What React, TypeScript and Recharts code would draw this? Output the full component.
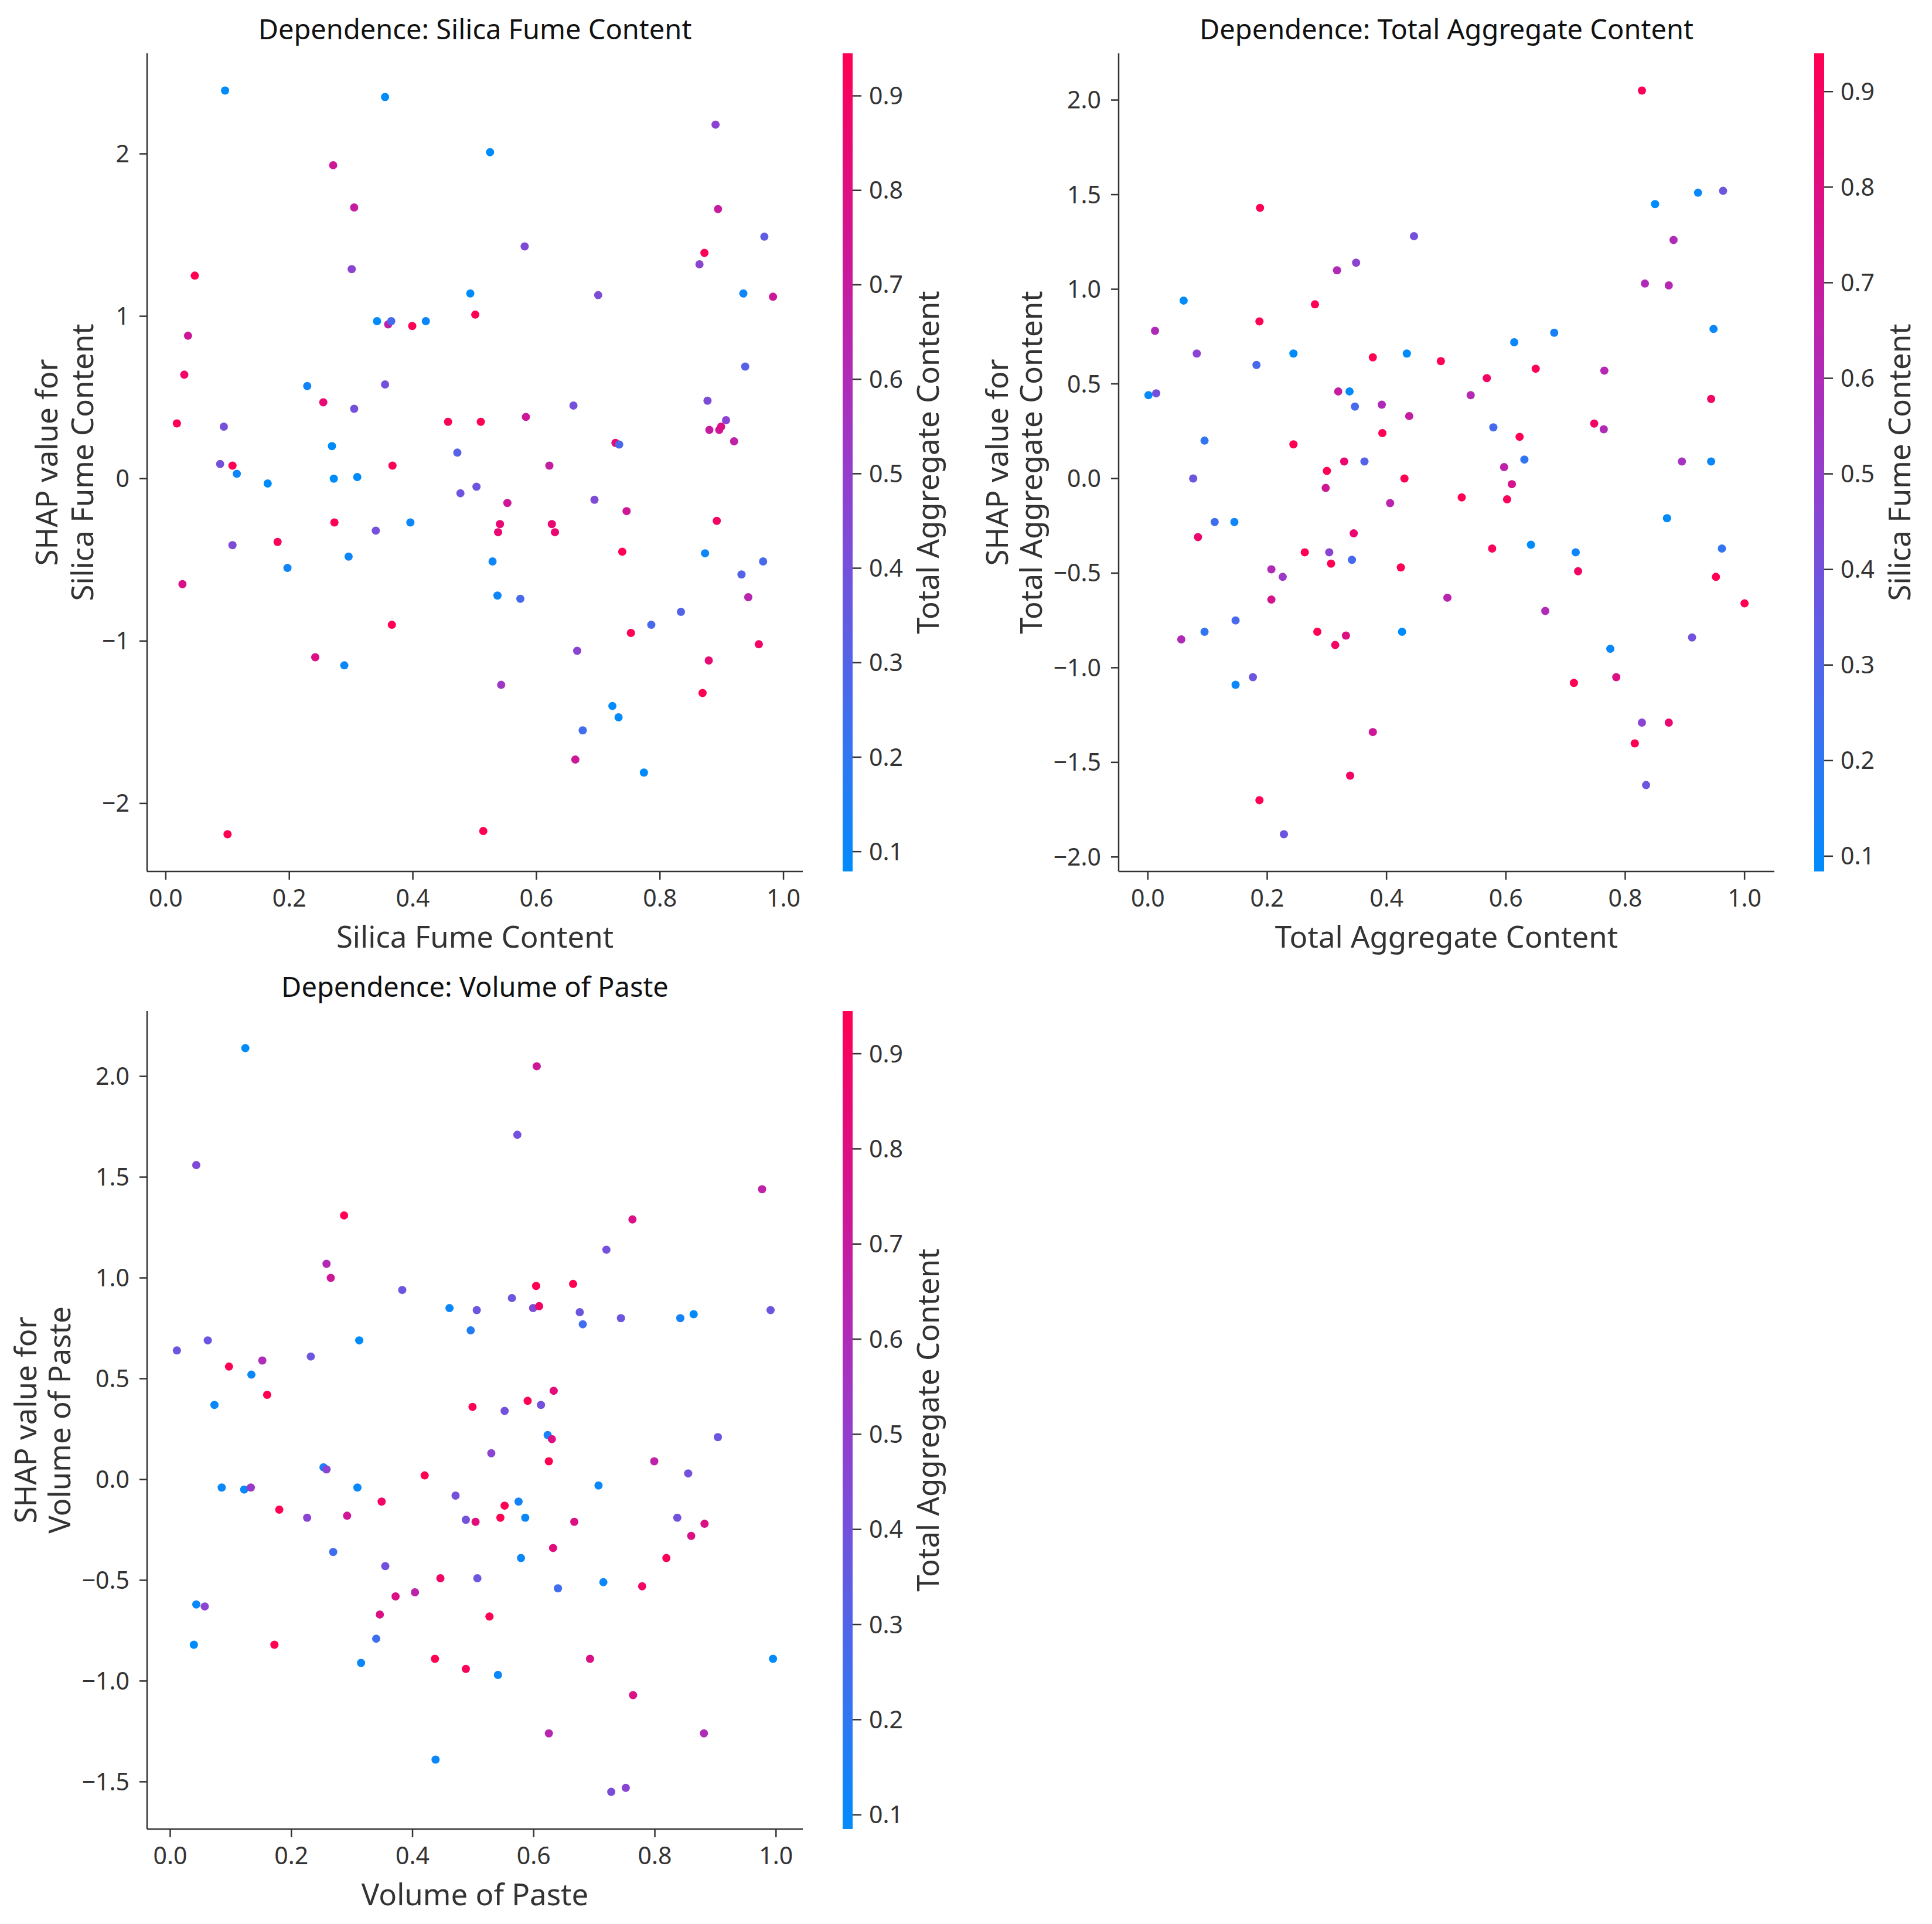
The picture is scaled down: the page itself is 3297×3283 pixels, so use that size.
import React from "react";
import { Bar, BarChart, Label, Scatter, ScatterChart, XAxis, YAxis } from "recharts";

// Dependence: Silica Fume Content (colour = Total Aggregate Content)
const sfX = [
  0.096, 0.355, 0.271, 0.305, 0.047, 0.301, 0.493, 0.036, 0.342, 0.36, 0.365, 0.399, 0.421, 0.501, 0.03, 0.229,
  0.355, 0.255, 0.305, 0.018, 0.094, 0.457, 0.51, 0.269, 0.472, 0.088, 0.108, 0.115, 0.165, 0.272, 0.31, 0.367,
  0.477, 0.503, 0.273, 0.34, 0.396, 0.108, 0.181, 0.296, 0.197, 0.027, 0.366, 0.242, 0.289, 0.1, 0.514,
  0.525, 0.89, 0.894, 0.969, 0.872, 0.864, 0.581, 0.7, 0.935, 0.983, 0.938, 0.66, 0.877, 0.583, 0.88, 0.896,
  0.907, 0.899, 0.92, 0.728, 0.734, 0.621, 0.694, 0.553, 0.746, 0.541, 0.538, 0.625, 0.63, 0.892, 0.739, 0.873,
  0.529, 0.932, 0.967, 0.537, 0.574, 0.943, 0.834, 0.786, 0.753, 0.666, 0.96, 0.879, 0.543, 0.869, 0.723, 0.733,
  0.675, 0.663, 0.774,
];
const sfShap = [
  2.39, 2.35, 1.93, 1.67, 1.25, 1.29, 1.14, 0.88, 0.97, 0.95, 0.97, 0.94, 0.97, 1.01, 0.64, 0.57, 0.58, 0.47, 0.43,
  0.34, 0.32, 0.35, 0.35, 0.2, 0.16, 0.09, 0.08, 0.03, -0.03, 0.0, 0.01, 0.08, -0.09, -0.05, -0.27, -0.32, -0.27,
  -0.41, -0.39, -0.48, -0.55, -0.65, -0.9, -1.1, -1.15, -2.19, -2.17,
  2.01, 2.18, 1.66, 1.49, 1.39, 1.32, 1.43, 1.13, 1.14, 1.12, 0.69, 0.45, 0.48, 0.38, 0.3, 0.3, 0.36, 0.32, 0.23,
  0.22, 0.21, 0.08, -0.13, -0.15, -0.2, -0.28, -0.33, -0.28, -0.33, -0.26, -0.45, -0.46, -0.51, -0.59, -0.51, -0.72,
  -0.74, -0.73, -0.82, -0.9, -0.95, -1.06, -1.02, -1.12, -1.27, -1.32, -1.4, -1.47, -1.55, -1.73, -1.81,
];
const sfColor = [
  0.05, 0.08, 0.73, 0.69, 0.95, 0.47, 0.08, 0.73, 0.08, 0.66, 0.27, 0.93, 0.11, 0.95, 0.89, 0.12, 0.4, 0.85, 0.4,
  0.95, 0.4, 0.92, 0.95, 0.08, 0.31, 0.4, 0.95, 0.11, 0.08, 0.08, 0.08, 0.93, 0.38, 0.38, 0.93, 0.4, 0.11, 0.43,
  0.92, 0.11, 0.12, 0.79, 0.95, 0.79, 0.11, 0.95, 0.95,
  0.08, 0.47, 0.69, 0.34, 0.92, 0.47, 0.43, 0.43, 0.11, 0.73, 0.31, 0.4, 0.43, 0.73, 0.7, 0.73, 0.47, 0.79, 0.66,
  0.85, 0.27, 0.69, 0.43, 0.73, 0.73, 0.85, 0.85, 0.85, 0.85, 0.89, 0.95, 0.11, 0.11, 0.3, 0.27, 0.11, 0.27, 0.64,
  0.3, 0.27, 0.95, 0.47, 0.89, 0.85, 0.53, 0.95, 0.08, 0.08, 0.25, 0.73, 0.08,
];

// Dependence: Total Aggregate Content (colour = Silica Fume Content)
const tagX = [
  0.188, 0.446, 0.317, 0.349, 0.06, 0.28, 0.187, 0.012, 0.082, 0.182, 0.244, 0.377, 0.434, 0.491, 0.001, 0.014,
  0.319, 0.338, 0.347, 0.392, 0.438, 0.095, 0.244, 0.393, 0.076, 0.3, 0.329, 0.363, 0.43, 0.298, 0.406, 0.526,
  0.112, 0.145, 0.084, 0.345, 0.263, 0.304, 0.307, 0.342, 0.424, 0.207, 0.226, 0.207, 0.502, 0.056, 0.095, 0.147,
  0.284, 0.314, 0.332, 0.426, 0.147, 0.176, 0.377, 0.339, 0.187, 0.228,
  0.828, 0.85, 0.922, 0.964, 0.881, 0.833, 0.873, 0.681, 0.614, 0.948, 0.65, 0.568, 0.765, 0.541, 0.944, 0.579,
  0.623, 0.748, 0.764, 0.631, 0.597, 0.895, 0.944, 0.61, 0.602, 0.87, 0.577, 0.642, 0.717, 0.721, 0.962, 0.952,
  1.0, 0.666, 0.912, 0.775, 0.714, 0.785, 0.828, 0.873, 0.816, 0.835,
];
const tagShap = [
  1.43, 1.28, 1.1, 1.14, 0.94, 0.92, 0.83, 0.78, 0.66, 0.6, 0.66, 0.64, 0.66, 0.62, 0.44, 0.45, 0.46, 0.46, 0.38,
  0.39, 0.33, 0.2, 0.18, 0.24, 0.0, 0.04, 0.09, 0.09, 0.0, -0.05, -0.13, -0.1, -0.23, -0.23, -0.31, -0.29, -0.39,
  -0.39, -0.45, -0.43, -0.47, -0.48, -0.52, -0.64, -0.63, -0.85, -0.81, -0.75, -0.81, -0.88, -0.83, -0.81, -1.09,
  -1.05, -1.34, -1.57, -1.7, -1.88,
  2.05, 1.45, 1.51, 1.52, 1.26, 1.03, 1.02, 0.77, 0.72, 0.79, 0.58, 0.53, 0.57, 0.44, 0.42, 0.27, 0.22, 0.29, 0.26,
  0.1, 0.06, 0.09, 0.09, -0.03, -0.11, -0.21, -0.37, -0.35, -0.39, -0.49, -0.37, -0.52, -0.66, -0.7, -0.84, -0.9,
  -1.08, -1.05, -1.29, -1.29, -1.4, -1.62,
];
const tagColor = [
  0.92, 0.4, 0.6, 0.47, 0.08, 0.95, 0.95, 0.6, 0.47, 0.27, 0.08, 0.95, 0.08, 0.95, 0.08, 0.4, 0.69, 0.08, 0.27,
  0.6, 0.69, 0.21, 0.95, 0.95, 0.38, 0.95, 0.85, 0.31, 0.95, 0.73, 0.64, 0.95, 0.25, 0.12, 0.85, 0.85, 0.95, 0.47,
  0.95, 0.27, 0.95, 0.6, 0.53, 0.76, 0.64, 0.6, 0.21, 0.27, 0.95, 0.89, 0.79, 0.08, 0.11, 0.38, 0.73, 0.89, 0.95,
  0.38,
  0.92, 0.08, 0.11, 0.38, 0.6, 0.6, 0.62, 0.14, 0.11, 0.11, 0.95, 0.89, 0.62, 0.62, 0.89, 0.27, 0.95, 0.89, 0.6,
  0.21, 0.66, 0.56, 0.11, 0.76, 0.92, 0.08, 0.92, 0.08, 0.12, 0.89, 0.21, 0.95, 0.95, 0.6, 0.4, 0.11, 0.95, 0.79,
  0.47, 0.85, 0.95, 0.38,
];

// Dependence: Volume of Paste (colour = Total Aggregate Content)
const vopX = [
  0.124, 0.043, 0.287, 0.258, 0.265, 0.383, 0.461, 0.506, 0.496, 0.011, 0.062, 0.312, 0.097, 0.134, 0.152, 0.232,
  0.073, 0.16, 0.499, 0.253, 0.258, 0.085, 0.122, 0.133, 0.309, 0.42, 0.18, 0.226, 0.292, 0.349, 0.471, 0.488,
  0.504, 0.269, 0.355, 0.446, 0.507, 0.372, 0.404, 0.346, 0.527, 0.34, 0.437, 0.488, 0.043, 0.057, 0.039, 0.172,
  0.315, 0.438,
  0.605, 0.573, 0.977, 0.763, 0.72, 0.665, 0.604, 0.564, 0.599, 0.609, 0.676, 0.681, 0.744, 0.842, 0.864, 0.991,
  0.59, 0.612, 0.633, 0.552, 0.623, 0.63, 0.53, 0.625, 0.799, 0.904, 0.855, 0.707, 0.575, 0.552, 0.545, 0.586,
  0.667, 0.837, 0.86, 0.882, 0.632, 0.819, 0.579, 0.64, 0.715, 0.779, 0.693, 0.541, 0.995, 0.764, 0.625, 0.881,
  0.728, 0.752,
];
const vopShap = [
  2.14, 1.56, 1.31, 1.07, 1.0, 0.94, 0.85, 0.84, 0.74, 0.64, 0.69, 0.69, 0.56, 0.52, 0.59, 0.61, 0.37, 0.42, 0.36,
  0.06, 0.05, -0.04, -0.05, -0.04, -0.04, 0.02, -0.15, -0.19, -0.18, -0.11, -0.08, -0.2, -0.21, -0.36, -0.43,
  -0.49, -0.49, -0.58, -0.56, -0.67, -0.68, -0.79, -0.89, -0.94, -0.62, -0.63, -0.82, -0.82, -0.91, -1.39,
  2.05, 1.71, 1.44, 1.29, 1.14, 0.97, 0.96, 0.9, 0.85, 0.86, 0.83, 0.77, 0.8, 0.8, 0.82, 0.84, 0.39, 0.37, 0.44,
  0.34, 0.22, 0.2, 0.13, 0.09, 0.09, 0.21, 0.03, -0.03, -0.11, -0.13, -0.19, -0.19, -0.21, -0.19, -0.28, -0.22,
  -0.34, -0.39, -0.39, -0.54, -0.51, -0.53, -0.89, -0.97, -0.89, -1.07, -1.26, -1.26, -1.55, -1.53,
];
const vopColor = [
  0.08, 0.44, 0.95, 0.62, 0.73, 0.38, 0.11, 0.38, 0.17, 0.38, 0.38, 0.08, 0.95, 0.11, 0.6, 0.38, 0.11, 0.95, 0.95,
  0.14, 0.47, 0.11, 0.11, 0.53, 0.11, 0.95, 0.95, 0.47, 0.73, 0.89, 0.4, 0.4, 0.82, 0.25, 0.4, 0.89, 0.38, 0.79,
  0.66, 0.79, 0.95, 0.25, 0.95, 0.92, 0.11, 0.47, 0.08, 0.95, 0.11, 0.11,
  0.73, 0.4, 0.66, 0.79, 0.4, 0.95, 0.95, 0.38, 0.43, 0.89, 0.38, 0.25, 0.38, 0.14, 0.08, 0.38, 0.95, 0.4, 0.82,
  0.4, 0.14, 0.79, 0.47, 0.95, 0.66, 0.38, 0.4, 0.11, 0.14, 0.95, 0.95, 0.11, 0.79, 0.4, 0.79, 0.79, 0.82, 0.92,
  0.11, 0.25, 0.11, 0.89, 0.79, 0.11, 0.08, 0.79, 0.64, 0.6, 0.43, 0.47,
];

const xTicks = [0, 0.2, 0.4, 0.6, 0.8, 1.0];
const sfYTicks = [-2, -1, 0, 1, 2];
const tagYTicks = [-2, -1.5, -1, -0.5, 0, 0.5, 1, 1.5, 2];
const vopYTicks = [-1.5, -1, -0.5, 0, 0.5, 1, 1.5, 2];
const cbTicks = [0.1, 0.2, 0.3, 0.4, 0.5, 0.6, 0.7, 0.8, 0.9];

// colour ranges shown on each colour bar
const sfColorRange: [number, number] = [0.079, 0.945];
const tagColorRange: [number, number] = [0.084, 0.94];
const vopColorRange: [number, number] = [0.085, 0.945];

// shap red_blue, sampled
const cmap = ["#008bfb", "#2b79f4", "#5164e9", "#7650db", "#983bca", "#b428b3", "#cd1797", "#e60a76", "#ff0052"];

const FONT = "'Noto Sans', 'Open Sans', sans-serif";
const INK = "#333333";

const PLOT_LEFT = 251;
const PLOT_TOP = 91;
const PLOT_W = 1119;
const PLOT_H = 1396;
const CHART_W = 1420;
const CHART_H = 1660;
const CB_LEFT = 1438;
const CB_W = 200;
const CB_BAR = 17;

function hexToRgb(h: string) {
  return [1, 3, 5].map((i) => parseInt(h.slice(i, i + 2), 16));
}

function colorAt(t: number) {
  const c = Math.max(0, Math.min(1, t)) * (cmap.length - 1);
  const i = Math.min(Math.floor(c), cmap.length - 2);
  const f = c - i;
  const a = hexToRgb(cmap[i]);
  const b = hexToRgb(cmap[i + 1]);
  const rgb = a.map((v, k) => Math.round(v + (b[k] - v) * f));
  return `rgb(${rgb[0]},${rgb[1]},${rgb[2]})`;
}

function padded(values: number[]): [number, number] {
  const lo = Math.min(...values);
  const hi = Math.max(...values);
  const m = (hi - lo) * 0.05;
  return [lo - m, hi + m];
}

function fmt(v: number, digits: number) {
  return v.toFixed(digits).replace("-", "\u2212");
}

type PanelProps = {
  id: string;
  left: number;
  top: number;
  feature: string;
  colorFeature: string;
  xs: number[];
  ys: number[];
  cs: number[];
  yTicks: number[];
  yDigits: number;
  yLabelGap: [number, number];
  colorRange: [number, number];
};

function Dot(props: any) {
  const { cx, cy, payload } = props;
  if (cx == null || cy == null) return null;
  return <circle cx={cx} cy={cy} r={7} fill={payload.fill} />;
}

function Panel({ id, left, top, feature, colorFeature, xs, ys, cs, yTicks, yDigits, yLabelGap, colorRange }: PanelProps) {
  const [lo, hi] = colorRange;
  const data = xs.map((x, i) => ({ x, y: ys[i], fill: colorAt((cs[i] - lo) / (hi - lo)) }));
  const tickStyle = { fontSize: 41, fill: INK, fontFamily: FONT };
  const labelStyle = { fontSize: 51, fill: INK, fontFamily: FONT };
  const midY = PLOT_TOP + PLOT_H / 2;
  const stops = cmap.map((c, i) => (
    <stop key={i} offset={`${(i / (cmap.length - 1)) * 100}%`} stopColor={c} />
  ));

  return (
    <div style={{ position: "absolute", left, top, width: CHART_W + 100, height: CHART_H }}>
      <ScatterChart
        width={CHART_W}
        height={CHART_H}
        margin={{ top: PLOT_TOP, right: CHART_W - PLOT_LEFT - PLOT_W, bottom: 0, left: 0 }}
      >
        <XAxis
          type="number"
          dataKey="x"
          domain={padded(xs)}
          ticks={xTicks}
          interval={0}
          height={CHART_H - PLOT_TOP - PLOT_H}
          tickSize={14}
          tickMargin={17}
          tick={tickStyle}
          tickFormatter={(v: number) => fmt(v, 1)}
          axisLine={{ stroke: INK, strokeWidth: 2.5 }}
          tickLine={{ stroke: INK, strokeWidth: 2.5 }}
        >
          <Label
            content={() => (
              <text x={PLOT_LEFT + PLOT_W / 2} y={PLOT_TOP + PLOT_H + 130} textAnchor="middle" {...labelStyle}>
                {feature}
              </text>
            )}
          />
        </XAxis>
        <YAxis
          type="number"
          dataKey="y"
          domain={padded(ys)}
          ticks={yTicks}
          interval={0}
          width={PLOT_LEFT}
          tickSize={13}
          tickMargin={17}
          tick={tickStyle}
          tickFormatter={(v: number) => fmt(v, yDigits)}
          axisLine={{ stroke: INK, strokeWidth: 2.5 }}
          tickLine={{ stroke: INK, strokeWidth: 2.5 }}
        >
          <Label
            content={() => (
              <g>
                <text
                  x={PLOT_LEFT + PLOT_W / 2}
                  y={PLOT_TOP - 24}
                  textAnchor="middle"
                  fontSize={47}
                  fill="#111111"
                  fontFamily={FONT}
                >
                  {`Dependence: ${feature}`}
                </text>
                {["SHAP value for", feature].map((line, i) => {
                  const cx = PLOT_LEFT - yLabelGap[i];
                  return (
                    <text
                      key={i}
                      x={cx}
                      y={midY}
                      transform={`rotate(-90, ${cx}, ${midY})`}
                      textAnchor="middle"
                      dominantBaseline="central"
                      {...labelStyle}
                    >
                      {line}
                    </text>
                  );
                })}
              </g>
            )}
          />
        </YAxis>
        <Scatter data={data} shape={<Dot />} isAnimationActive={false} />
      </ScatterChart>

      <div style={{ position: "absolute", left: CB_LEFT, top: 0 }}>
        <BarChart
          width={CB_W}
          height={CHART_H}
          data={[{ k: colorFeature, span: [lo, hi] }]}
          margin={{ top: PLOT_TOP, right: 0, bottom: CHART_H - PLOT_TOP - PLOT_H, left: 0 }}
          barCategoryGap={0}
          barGap={0}
        >
          <defs>
            <linearGradient id={`cb-${id}`} x1="0" y1="1" x2="0" y2="0">
              {stops}
            </linearGradient>
          </defs>
          <XAxis dataKey="k" hide />
          <YAxis
            orientation="right"
            type="number"
            domain={[lo, hi]}
            allowDataOverflow
            ticks={cbTicks}
            interval={0}
            width={CB_W - CB_BAR}
            tickSize={15}
            tickMargin={13}
            tick={tickStyle}
            tickFormatter={(v: number) => v.toFixed(1)}
            axisLine={false}
            tickLine={{ stroke: INK, strokeWidth: 2.5 }}
          >
            <Label
              content={() => {
                const cx = CB_BAR + 127;
                return (
                  <text
                    x={cx}
                    y={midY}
                    transform={`rotate(-90, ${cx}, ${midY})`}
                    textAnchor="middle"
                    dominantBaseline="central"
                    {...labelStyle}
                  >
                    {colorFeature}
                  </text>
                );
              }}
            />
          </YAxis>
          <Bar dataKey="span" fill={`url(#cb-${id})`} isAnimationActive={false} />
        </BarChart>
      </div>
    </div>
  );
}

export default function App() {
  return (
    <div style={{ position: "relative", width: 3297, height: 3283, overflow: "hidden", background: "#ffffff" }}>
      <style>{`body { margin: 0; }`}</style>
      <Panel
        id="sf"
        left={0}
        top={0}
        feature="Silica Fume Content"
        colorFeature="Total Aggregate Content"
        xs={sfX}
        ys={sfShap}
        cs={sfColor}
        yTicks={sfYTicks}
        yDigits={0}
        yLabelGap={[173, 112]}
        colorRange={sfColorRange}
      />
      <Panel
        id="tag"
        left={1658}
        top={0}
        feature="Total Aggregate Content"
        colorFeature="Silica Fume Content"
        xs={tagX}
        ys={tagShap}
        cs={tagColor}
        yTicks={tagYTicks}
        yDigits={1}
        yLabelGap={[209, 151]}
        colorRange={tagColorRange}
      />
      <Panel
        id="vop"
        left={0}
        top={1634}
        feature="Volume of Paste"
        colorFeature="Total Aggregate Content"
        xs={vopX}
        ys={vopShap}
        cs={vopColor}
        yTicks={vopYTicks}
        yDigits={1}
        yLabelGap={[209, 151]}
        colorRange={vopColorRange}
      />
    </div>
  );
}
